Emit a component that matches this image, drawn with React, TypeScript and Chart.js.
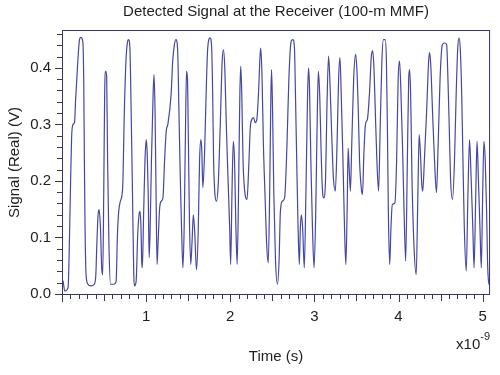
import React, { useEffect, useRef } from 'react';
import { Chart, registerables } from 'chart.js';

Chart.register(...registerables);

// Time axis values in nanoseconds (axis shows x10^-9)
const timeNs = [
  0, 0.013, 0.033, 0.072, 0.083, 0.099, 0.114, 0.130, 0.149, 0.161,
  0.188, 0.208, 0.223, 0.247, 0.258, 0.266, 0.274, 0.286, 0.305, 0.344,
  0.383, 0.402, 0.414, 0.429, 0.441, 0.457, 0.472, 0.484, 0.496, 0.507,
  0.519, 0.531, 0.542, 0.558, 0.577, 0.616, 0.643, 0.659, 0.674, 0.694,
  0.721, 0.741, 0.760, 0.780, 0.791, 0.807, 0.822, 0.838, 0.853, 0.861,
  0.881, 0.900, 0.916, 0.927, 0.939, 0.947, 0.955, 0.970, 0.986, 1.001,
  1.013, 1.025, 1.036, 1.048, 1.063, 1.083, 1.094, 1.106, 1.118, 1.130,
  1.141, 1.161, 1.180, 1.200, 1.219, 1.239, 1.258, 1.297, 1.316, 1.336,
  1.355, 1.375, 1.390, 1.406, 1.421, 1.437, 1.452, 1.468, 1.480, 1.491,
  1.503, 1.515, 1.530, 1.546, 1.561, 1.577, 1.592, 1.600, 1.620, 1.635,
  1.651, 1.662, 1.674, 1.694, 1.713, 1.732, 1.760, 1.779, 1.791, 1.802,
  1.818, 1.837, 1.857, 1.880, 1.904, 1.919, 1.935, 1.954, 1.973, 1.993,
  2.005, 2.020, 2.036, 2.051, 2.067, 2.082, 2.098, 2.114, 2.125, 2.137,
  2.152, 2.176, 2.199, 2.219, 2.238, 2.257, 2.277, 2.296, 2.316, 2.335,
  2.355, 2.363, 2.378, 2.394, 2.413, 2.433, 2.452, 2.468, 2.483, 2.491,
  2.503, 2.518, 2.538, 2.561, 2.580, 2.596, 2.619, 2.646, 2.674, 2.697,
  2.724, 2.744, 2.763, 2.775, 2.790, 2.806, 2.821, 2.833, 2.845, 2.860,
  2.880, 2.899, 2.919, 2.930, 2.942, 2.958, 2.977, 2.996, 3.016, 3.035,
  3.047, 3.063, 3.078, 3.094, 3.113, 3.133, 3.148, 3.168, 3.183, 3.203,
  3.226, 3.249, 3.269, 3.288, 3.304, 3.319, 3.335, 3.347, 3.358, 3.374,
  3.389, 3.401, 3.413, 3.428, 3.444, 3.467, 3.490, 3.506, 3.522, 3.537,
  3.561, 3.572, 3.588, 3.607, 3.630, 3.654, 3.677, 3.693, 3.708, 3.724,
  3.743, 3.763, 3.782, 3.802, 3.821, 3.841, 3.856, 3.868, 3.879, 3.895,
  3.910, 3.926, 3.957, 3.977, 3.996, 4.012, 4.027, 4.047, 4.066, 4.085,
  4.105, 4.121, 4.132, 4.144, 4.160, 4.183, 4.210, 4.230, 4.245, 4.261,
  4.276, 4.288, 4.307, 4.334, 4.358, 4.370, 4.385, 4.404, 4.428, 4.451,
  4.471, 4.494, 4.521, 4.548, 4.572, 4.587, 4.603, 4.618, 4.642, 4.665,
  4.685, 4.704, 4.720, 4.735, 4.751, 4.766, 4.782, 4.805, 4.825, 4.844,
  4.863, 4.883, 4.898, 4.918, 4.933, 4.949, 4.968, 4.984, 5.000, 5.015,
  5.031, 5.047, 5.058, 5.070, 5.085,
];

// Detected signal (V)
const signalV = [
  0.025, 0.022, 0.005, 0.011, 0.058, 0.176, 0.276, 0.300, 0.303, 0.341,
  0.412, 0.450, 0.454, 0.447, 0.382, 0.235, 0.117, 0.034, 0.018, 0.014,
  0.017, 0.034, 0.087, 0.140, 0.149, 0.117, 0.046, 0.034, 0.176, 0.353,
  0.394, 0.385, 0.235, 0.087, 0.017, 0.017, 0.022, 0.105, 0.146, 0.164,
  0.188, 0.323, 0.412, 0.447, 0.450, 0.435, 0.323, 0.176, 0.034, 0.014,
  0.022, 0.105, 0.140, 0.146, 0.117, 0.058, 0.046, 0.140, 0.235, 0.273,
  0.247, 0.176, 0.064, 0.117, 0.235, 0.353, 0.388, 0.323, 0.176, 0.052,
  0.087, 0.152, 0.164, 0.170, 0.235, 0.288, 0.300, 0.353, 0.412, 0.441,
  0.450, 0.430, 0.323, 0.205, 0.117, 0.046, 0.117, 0.294, 0.394, 0.382,
  0.264, 0.129, 0.052, 0.093, 0.140, 0.111, 0.058, 0.043, 0.117, 0.235,
  0.273, 0.253, 0.188, 0.247, 0.353, 0.435, 0.453, 0.435, 0.353, 0.235,
  0.176, 0.164, 0.194, 0.294, 0.412, 0.432, 0.400, 0.294, 0.205, 0.117,
  0.052, 0.176, 0.270, 0.235, 0.117, 0.052, 0.176, 0.353, 0.403, 0.353,
  0.235, 0.176, 0.167, 0.223, 0.294, 0.309, 0.312, 0.303, 0.309, 0.353,
  0.424, 0.435, 0.382, 0.264, 0.176, 0.087, 0.055, 0.176, 0.353, 0.397,
  0.323, 0.176, 0.058, 0.017, 0.058, 0.146, 0.164, 0.170, 0.264, 0.382,
  0.447, 0.450, 0.435, 0.353, 0.235, 0.117, 0.052, 0.117, 0.140, 0.117,
  0.046, 0.176, 0.353, 0.400, 0.365, 0.235, 0.117, 0.046, 0.146, 0.323,
  0.394, 0.353, 0.264, 0.188, 0.170, 0.205, 0.323, 0.421, 0.382, 0.294,
  0.205, 0.182, 0.264, 0.382, 0.418, 0.353, 0.264, 0.188, 0.117, 0.052,
  0.146, 0.258, 0.223, 0.182, 0.264, 0.382, 0.424, 0.394, 0.323, 0.235,
  0.182, 0.176, 0.247, 0.300, 0.309, 0.353, 0.421, 0.430, 0.400, 0.323,
  0.235, 0.182, 0.294, 0.412, 0.450, 0.450, 0.412, 0.294, 0.146, 0.052,
  0.117, 0.158, 0.161, 0.235, 0.382, 0.412, 0.365, 0.264, 0.146, 0.058,
  0.235, 0.382, 0.397, 0.353, 0.205, 0.087, 0.034, 0.176, 0.282, 0.247,
  0.194, 0.182, 0.235, 0.323, 0.412, 0.427, 0.400, 0.323, 0.235, 0.179,
  0.264, 0.382, 0.441, 0.444, 0.441, 0.382, 0.294, 0.205, 0.167, 0.235,
  0.353, 0.435, 0.453, 0.430, 0.353, 0.235, 0.117, 0.040, 0.176, 0.273,
  0.205, 0.117, 0.046, 0.176, 0.270, 0.205, 0.117, 0.046, 0.176, 0.270,
  0.235, 0.146, 0.058, 0.022, 0.015,
];

const xTickValues = [1, 2, 3, 4, 5];
const yTickValues = [0, 0.1, 0.2, 0.3, 0.4];
const xMinorStep = 0.1;
const yMinorStep = 0.02;
const xRange = [0, 5.088];
const yRange = [-0.002, 0.467];

const chartTitle = 'Detected Signal at the Receiver (100-m MMF)';
const xAxisTitle = 'Time (s)';
const yAxisTitle = 'Signal (Real) (V)';
const xScaleBase = 'x10';
const xScaleExp = '-9';

const FONT = '"Liberation Sans", Arial, sans-serif';
const TEXT = '#1e1e1e';
const FRAME = '#34346e';
const TICK = '#3a3a3a';
const LINE = '#4646a6';

const decorPlugin = {
  id: 'decor',
  afterDatasetsDraw(chart: any) {
    const { ctx, chartArea: a, scales } = chart;
    const x = scales.x;
    const y = scales.y;
    ctx.save();
    ctx.strokeStyle = FRAME;
    ctx.lineWidth = 1;
    ctx.strokeRect(a.left + 0.5, a.top + 0.5, a.right - a.left - 1, a.bottom - a.top - 1);

    ctx.strokeStyle = TICK;
    ctx.beginPath();
    const nx = Math.floor(x.max / xMinorStep + 1e-6);
    for (let i = 0; i <= nx; i++) {
      const px = Math.round(x.getPixelForValue(i * xMinorStep)) + 0.5;
      const len = i % 10 === 0 ? 7 : i % 5 === 0 ? 6 : 4;
      ctx.moveTo(px, a.bottom);
      ctx.lineTo(px, a.bottom + len);
    }
    const ny = Math.floor(y.max / yMinorStep + 1e-6);
    for (let i = 0; i <= ny; i++) {
      const py = Math.round(y.getPixelForValue(i * yMinorStep)) + 0.5;
      const len = i % 5 === 0 ? 7 : 5;
      ctx.moveTo(a.left, py);
      ctx.lineTo(a.left - len, py);
    }
    ctx.stroke();

    ctx.fillStyle = TEXT;
    ctx.textBaseline = 'alphabetic';
    ctx.textAlign = 'left';
    ctx.font = `15px ${FONT}`;
    const baseW = ctx.measureText(xScaleBase).width;
    ctx.font = `11px ${FONT}`;
    const expW = ctx.measureText(xScaleExp).width;
    const startX = a.right - baseW - expW;
    ctx.font = `15px ${FONT}`;
    ctx.fillText(xScaleBase, startX, a.bottom + 54);
    ctx.font = `11px ${FONT}`;
    ctx.fillText(xScaleExp, startX + baseW, a.bottom + 45);
    ctx.restore();
  },
};

export default function App() {
  const ref = useRef<HTMLCanvasElement | null>(null);

  useEffect(() => {
    document.body.style.margin = '0';
    const canvas = ref.current;
    if (!canvas) return;
    const font = { family: FONT, size: 15, weight: 'normal' as const };
    const chart = new Chart(canvas, {
      type: 'line',
      data: {
        datasets: [
          {
            data: timeNs.map((t, i) => ({ x: t, y: signalV[i] })),
            borderColor: LINE,
            borderWidth: 1.2,
            pointRadius: 0,
            fill: false,
            cubicInterpolationMode: 'monotone',
          },
        ],
      },
      options: {
        animation: false,
        responsive: false,
        events: [],
        layout: { padding: { left: 0, right: 2, top: 0, bottom: 0 } },
        plugins: {
          legend: { display: false },
          tooltip: { enabled: false },
          title: {
            display: true,
            text: chartTitle,
            fullSize: false,
            color: TEXT,
            font,
            padding: { top: 3, bottom: 9 },
          },
        },
        scales: {
          x: {
            type: 'linear',
            min: xRange[0],
            max: xRange[1],
            afterBuildTicks: (s: any) => {
              s.ticks = xTickValues.map((v) => ({ value: v }));
            },
            afterFit: (s: any) => {
              s.height = 80;
            },
            grid: { display: false, drawTicks: false },
            border: { display: false },
            ticks: {
              color: TEXT,
              font,
              padding: 13,
              maxRotation: 0,
              autoSkip: false,
              callback: (v: any) => String(v),
            },
            title: {
              display: true,
              text: xAxisTitle,
              color: TEXT,
              font,
              padding: { top: 0, bottom: 9 },
            },
          },
          y: {
            type: 'linear',
            min: yRange[0],
            max: yRange[1],
            afterBuildTicks: (s: any) => {
              s.ticks = yTickValues.map((v) => ({ value: v }));
            },
            afterFit: (s: any) => {
              s.width = 62;
            },
            grid: { display: false, drawTicks: false },
            border: { display: false },
            ticks: {
              color: TEXT,
              font,
              padding: 11,
              autoSkip: false,
              callback: (v: any) => Number(v).toFixed(1),
            },
            title: {
              display: true,
              text: yAxisTitle,
              color: TEXT,
              font,
              padding: { top: 6, bottom: 0 },
            },
          },
        },
      },
      plugins: [decorPlugin],
    } as any);
    return () => chart.destroy();
  }, []);

  return (
    <div style={{ width: 500, height: 375 }}>
      <canvas ref={ref} width={500} height={375} style={{ display: 'block' }} />
    </div>
  );
}
